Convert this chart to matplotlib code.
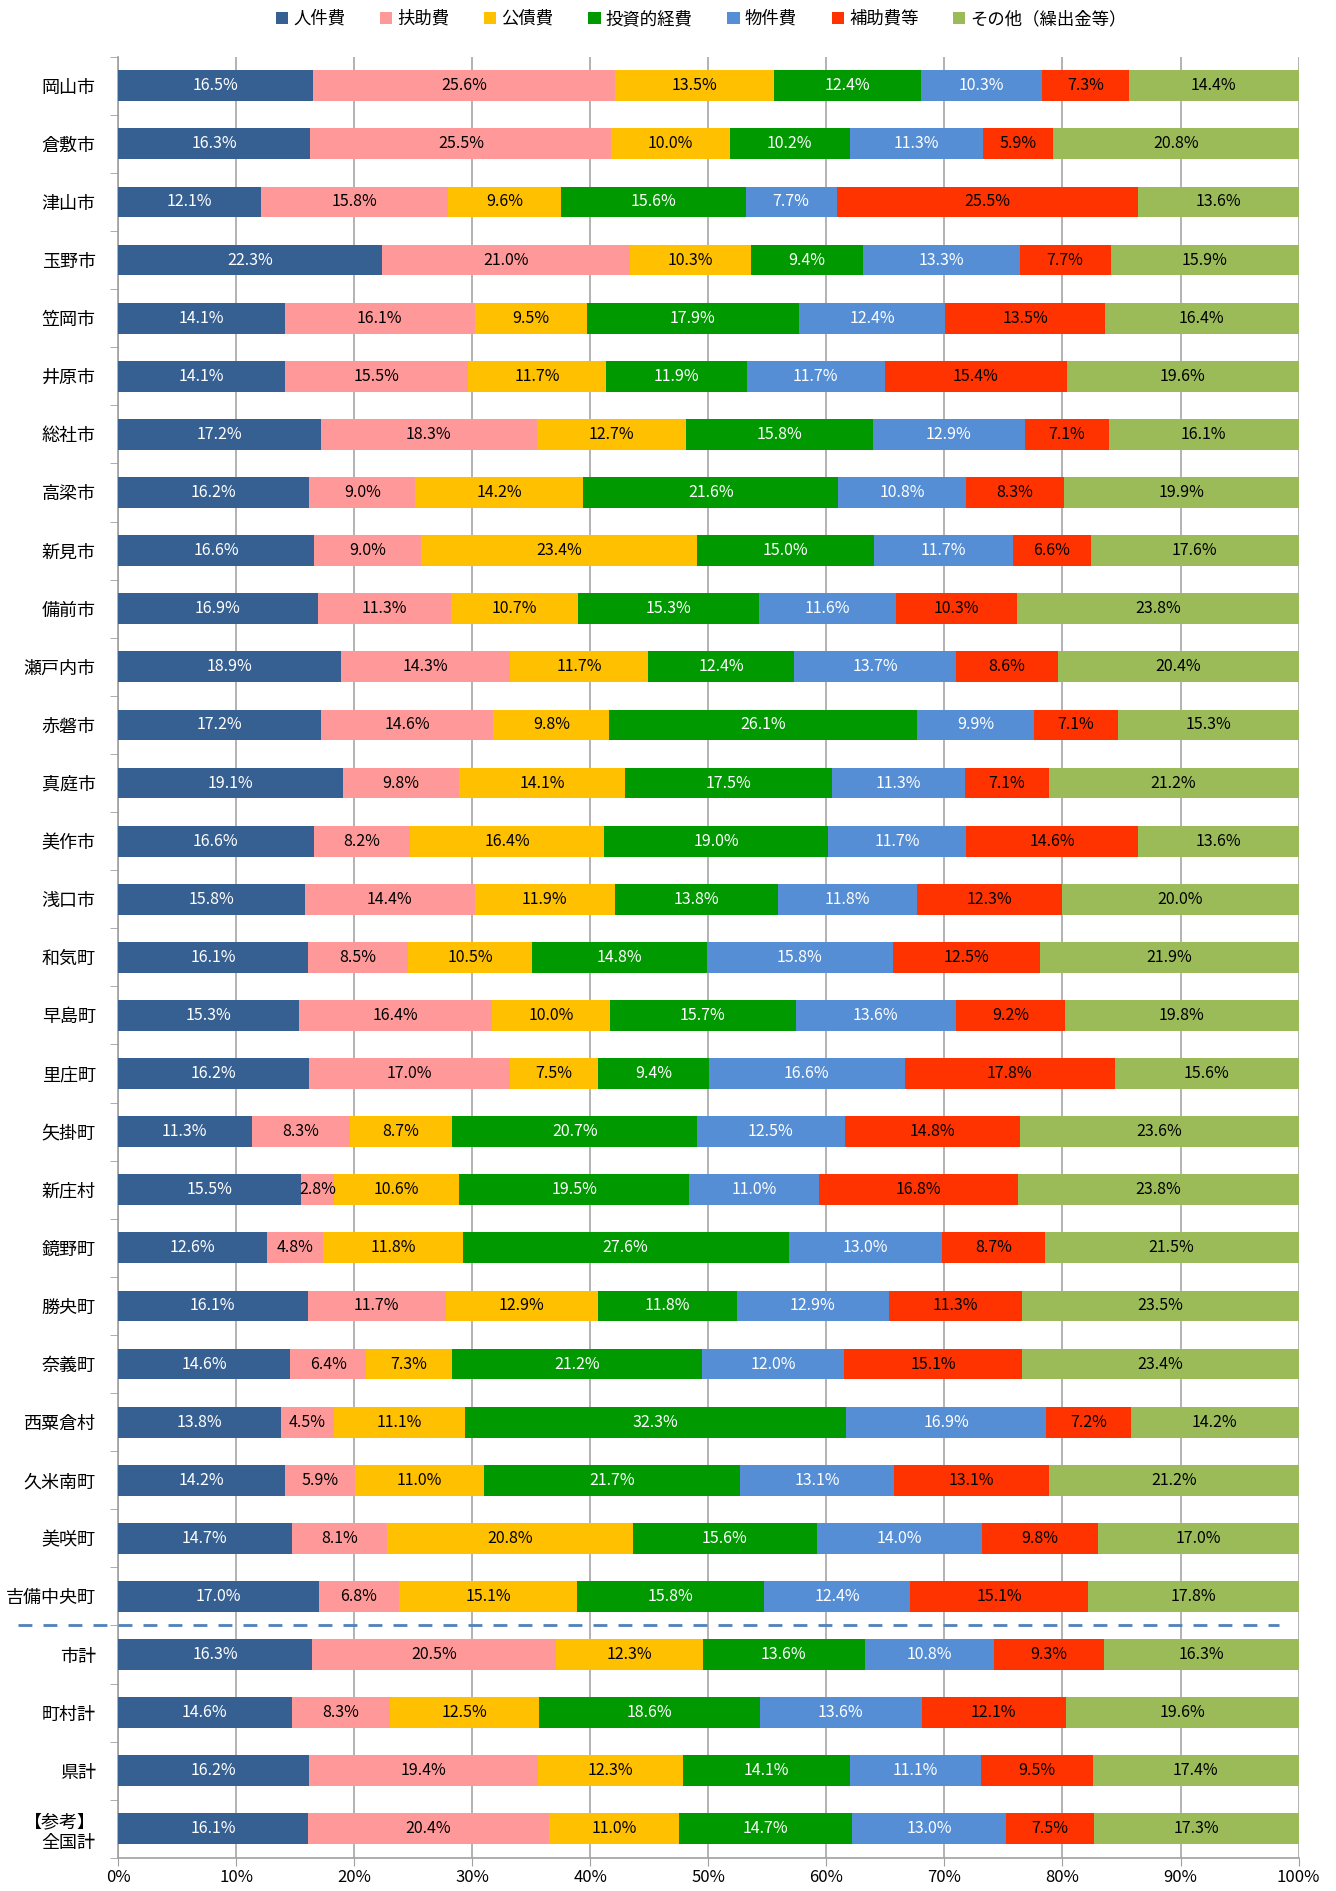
import numpy as np
import matplotlib
matplotlib.use("Agg")
import matplotlib.pyplot as plt
from matplotlib.patches import Patch

plt.rcParams['font.family'] = ['Noto Sans CJK JP', 'DejaVu Sans']

# Data
areas = ["岡山市", "倉敷市", "津山市", "玉野市", "笠岡市", "井原市", "総社市", "高梁市",
         "新見市", "備前市", "瀬戸内市", "赤磐市", "真庭市", "美作市", "浅口市", "和気町",
         "早島町", "里庄町", "矢掛町", "新庄村", "鏡野町", "勝央町", "奈義町", "西粟倉村",
         "久米南町", "美咲町", "吉備中央町", "市計", "町村計", "県計", "【参考】\n全国計"]
series = ["人件費", "扶助費", "公債費", "投資的経費", "物件費", "補助費等", "その他（繰出金等）"]

jinkenhi = [16.5, 16.3, 12.1, 22.3, 14.1, 14.1, 17.2, 16.2, 16.6, 16.9, 18.9, 17.2, 19.1, 16.6, 15.8, 16.1,
            15.3, 16.2, 11.3, 15.5, 12.6, 16.1, 14.6, 13.8, 14.2, 14.7, 17.0, 16.3, 14.6, 16.2, 16.1]
fujohi = [25.6, 25.5, 15.8, 21.0, 16.1, 15.5, 18.3, 9.0, 9.0, 11.3, 14.3, 14.6, 9.8, 8.2, 14.4, 8.5,
          16.4, 17.0, 8.3, 2.8, 4.8, 11.7, 6.4, 4.5, 5.9, 8.1, 6.8, 20.5, 8.3, 19.4, 20.4]
kosaihi = [13.5, 10.0, 9.6, 10.3, 9.5, 11.7, 12.7, 14.2, 23.4, 10.7, 11.7, 9.8, 14.1, 16.4, 11.9, 10.5,
           10.0, 7.5, 8.7, 10.6, 11.8, 12.9, 7.3, 11.1, 11.0, 20.8, 15.1, 12.3, 12.5, 12.3, 11.0]
toshi = [12.4, 10.2, 15.6, 9.4, 17.9, 11.9, 15.8, 21.6, 15.0, 15.3, 12.4, 26.1, 17.5, 19.0, 13.8, 14.8,
         15.7, 9.4, 20.7, 19.5, 27.6, 11.8, 21.2, 32.3, 21.7, 15.6, 15.8, 13.6, 18.6, 14.1, 14.7]
bukken = [10.3, 11.3, 7.7, 13.3, 12.4, 11.7, 12.9, 10.8, 11.7, 11.6, 13.7, 9.9, 11.3, 11.7, 11.8, 15.8,
          13.6, 16.6, 12.5, 11.0, 13.0, 12.9, 12.0, 16.9, 13.1, 14.0, 12.4, 10.8, 13.6, 11.1, 13.0]
hojo = [7.3, 5.9, 25.5, 7.7, 13.5, 15.4, 7.1, 8.3, 6.6, 10.3, 8.6, 7.1, 7.1, 14.6, 12.3, 12.5,
        9.2, 17.8, 14.8, 16.8, 8.7, 11.3, 15.1, 7.2, 13.1, 9.8, 15.1, 9.3, 12.1, 9.5, 7.5]
sonota = [14.4, 20.8, 13.6, 15.9, 16.4, 19.6, 16.1, 19.9, 17.6, 23.8, 20.4, 15.3, 21.2, 13.6, 20.0, 21.9,
          19.8, 15.6, 23.6, 23.8, 21.5, 23.5, 23.4, 14.2, 21.2, 17.0, 17.8, 16.3, 19.6, 17.4, 17.3]

colors = ["#376092", "#FF9999", "#FFC000", "#009900", "#558ED5", "#FF3300", "#9BBB59"]
text_colors = ["white", "black", "black", "white", "white", "black", "black"]

values = np.array([jinkenhi, fujohi, kosaihi, toshi, bukken, hojo, sonota])
totals = values.sum(axis=0)
shares = values / totals * 100  # 100% stacked

fig = plt.figure(figsize=(13.36, 18.91), dpi=100)
ax = fig.add_axes([0.0883, 0.0175, 0.972 - 0.0883, 0.9700 - 0.0175])

n = len(areas)
y = np.arange(n)
left = np.zeros(n)
for i in range(len(series)):
    ax.barh(y, shares[i], left=left, height=0.53, color=colors[i], label=series[i], zorder=3)
    for j in range(n):
        ax.text(left[j] + shares[i][j] / 2, y[j], f"{values[i][j]:.1f}%", ha="center", va="center",
                color=text_colors[i], fontsize=11.5, zorder=4)
    left += shares[i]

ax.set_xlim(0, 100)
ax.set_ylim(n - 0.5, -0.5)
ax.set_xticks(np.arange(0, 101, 10))
ax.set_xticklabels([f"{v}%" for v in range(0, 101, 10)], fontsize=12)
ax.set_yticks(y)
ax.set_yticklabels(areas, fontsize=13)
ax.set_yticks(np.arange(-0.5, n, 1), minor=True)
ax.tick_params(axis="y", which="major", length=0, pad=16)
ax.tick_params(axis="y", which="minor", length=6, color="#A0A0A0", direction="out")
ax.tick_params(axis="x", length=6, color="#A0A0A0", direction="out", pad=2)
ax.grid(axis="x", color="#A6A6A6", linewidth=1.2, zorder=0)
for s in ["top", "right"]:
    ax.spines[s].set_visible(False)
for s in ["left", "bottom"]:
    ax.spines[s].set_color("#A0A0A0")
    ax.spines[s].set_linewidth(1.2)

# separator between municipalities and totals
ax.axhline(26.5, xmin=-0.085, xmax=0.983, color="#4F81BD", linestyle=(0, (5, 4)), linewidth=2,
           clip_on=False, zorder=5)

handles = [Patch(facecolor=c, label=s) for c, s in zip(colors, series)]
fig.legend(handles=handles, loc="upper center", bbox_to_anchor=(0.525, 1.003), ncol=7, frameon=False,
           fontsize=12.5, handlelength=0.7, handleheight=0.7, handletextpad=0.3, columnspacing=2.0)

fig.savefig("out.png", dpi=100)
